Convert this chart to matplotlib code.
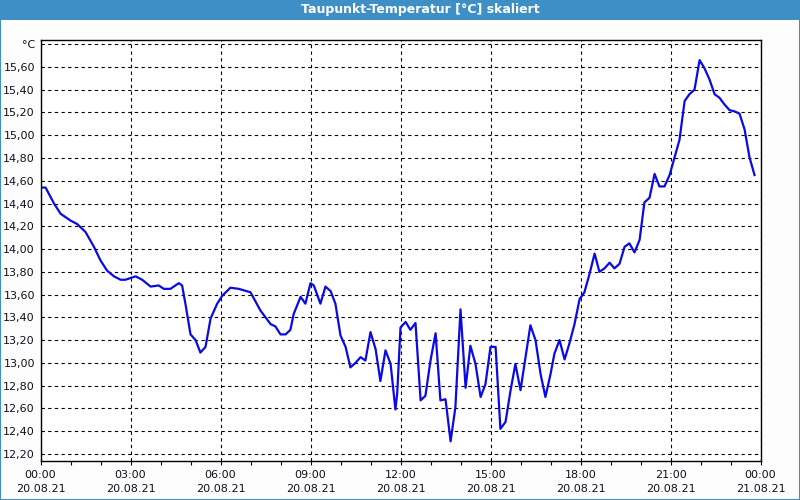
import matplotlib.pyplot as plt
from matplotlib.patches import Rectangle

# ==============================
# DATA
# ==============================
hours = [0.00, 0.17, 0.45, 0.67, 1.00, 1.22, 1.50, 1.78, 2.00, 2.22, 2.45, 2.67,
         2.83, 3.17, 3.39, 3.67, 3.94, 4.11, 4.33, 4.61, 4.72, 4.83, 5.00, 5.17,
         5.33, 5.50, 5.67, 5.89, 6.06, 6.33, 6.61, 7.00, 7.33, 7.67, 7.83, 8.00,
         8.17, 8.33, 8.44, 8.67, 8.83, 9.00, 9.11, 9.33, 9.50, 9.67, 9.83, 10.00,
         10.17, 10.33, 10.50, 10.67, 10.83, 11.00, 11.17, 11.33, 11.50, 11.67, 11.83, 11.89,
         12.00, 12.17, 12.33, 12.50, 12.67, 12.83, 13.00, 13.17, 13.33, 13.50, 13.67, 13.83,
         14.00, 14.17, 14.33, 14.50, 14.67, 14.83, 15.00, 15.17, 15.33, 15.50, 15.67, 15.83,
         16.00, 16.33, 16.50, 16.67, 16.83, 17.00, 17.13, 17.30, 17.47, 17.63, 17.80, 17.97,
         18.13, 18.30, 18.47, 18.63, 18.80, 18.97, 19.13, 19.30, 19.47, 19.63, 19.80, 19.97,
         20.13, 20.30, 20.47, 20.63, 20.80, 20.97, 21.13, 21.30, 21.47, 21.63, 21.80, 21.97,
         22.13, 22.30, 22.47, 22.63, 22.80, 22.97, 23.13, 23.30, 23.47, 23.63, 23.80]

dewpoint = [14.54, 14.54, 14.40, 14.31, 14.25, 14.22, 14.15, 14.02, 13.90, 13.81, 13.76, 13.73,
            13.73, 13.76, 13.73, 13.67, 13.68, 13.65, 13.65, 13.70, 13.68, 13.52, 13.25, 13.20,
            13.09, 13.14, 13.39, 13.52, 13.59, 13.66, 13.65, 13.62, 13.46, 13.34, 13.32, 13.25,
            13.25, 13.29, 13.43, 13.58, 13.52, 13.70, 13.68, 13.52, 13.67, 13.63, 13.52, 13.24,
            13.14, 12.96, 13.00, 13.05, 13.02, 13.27, 13.12, 12.84, 13.11, 12.99, 12.59, 12.73,
            13.31, 13.36, 13.29, 13.35, 12.67, 12.71, 13.02, 13.26, 12.67, 12.68, 12.31, 12.61,
            13.47, 12.78, 13.15, 12.99, 12.70, 12.81, 13.14, 13.14, 12.42, 12.48, 12.76, 12.99,
            12.76, 13.33, 13.20, 12.90, 12.70, 12.90, 13.08, 13.20, 13.03, 13.17, 13.34, 13.56,
            13.62, 13.78, 13.96, 13.80, 13.83, 13.88, 13.83, 13.87, 14.02, 14.05, 13.97, 14.08,
            14.41, 14.45, 14.66, 14.55, 14.55, 14.65, 14.80, 14.96, 15.30, 15.36, 15.40, 15.66,
            15.59, 15.49, 15.36, 15.33, 15.27, 15.22, 15.21, 15.19, 15.05, 14.81, 14.65]

x_ticks = [0, 3, 6, 9, 12, 15, 18, 21, 24]
x_labels = ["00:00\n20.08.21", "03:00\n20.08.21", "06:00\n20.08.21",
            "09:00\n20.08.21", "12:00\n20.08.21", "15:00\n20.08.21",
            "18:00\n20.08.21", "21:00\n20.08.21", "00:00\n21.08.21"]
y_ticks = [12.2, 12.4, 12.6, 12.8, 13.0, 13.2, 13.4, 13.6, 13.8, 14.0,
           14.2, 14.4, 14.6, 14.8, 15.0, 15.2, 15.4, 15.6, 15.8]
title = "Taupunkt-Temperatur [°C] skaliert"

# ==============================
# PLOT
# ==============================
fig = plt.figure(figsize=(8, 5), dpi=100, facecolor="#fcfdfc")
ax = fig.add_axes([40.5 / 800, 1 - 460.7 / 500, 720 / 800, 420.5 / 500])

ax.plot(hours, dewpoint, color="#0a0ae6", linewidth=1.6)

ax.set_xlim(0, 24)
ax.set_ylim(12.14, 15.835)
ax.set_xticks(x_ticks)
ax.set_xticklabels(x_labels, fontsize=8, linespacing=1.45, color="#101020")
ax.set_xticks(range(25), minor=True)
ax.set_yticks(y_ticks)
ylabels = [f"{v:.2f}".replace(".", ",") for v in y_ticks[:-1]] + ["°C"]
ax.set_yticklabels(ylabels, fontsize=8, color="#101020")

ax.tick_params(axis="x", which="both", length=3, width=0.8, color="black", pad=4)
ax.tick_params(axis="y", which="both", length=0, pad=4)
ax.grid(True, which="major", color="black", linestyle=(0, (3, 3)), linewidth=0.8)
for s in ax.spines.values():
    s.set_linewidth(1.0)
    s.set_color("black")

# title bar and outer frame
bar_color = "#3d8fc5"
fig.patches.append(Rectangle((0, 1 - 20 / 500), 1, 20 / 500, transform=fig.transFigure,
                             facecolor=bar_color, edgecolor="none", zorder=0))
fig.patches.append(Rectangle((0, 0), 1, 1, transform=fig.transFigure,
                             facecolor="none", edgecolor=bar_color, linewidth=1.5, zorder=1))
fig.text(420 / 800, 1 - 10 / 500, title, color="white", fontsize=9, fontweight="bold",
         ha="center", va="center")

plt.savefig("out.png", dpi=100, facecolor=fig.get_facecolor())
